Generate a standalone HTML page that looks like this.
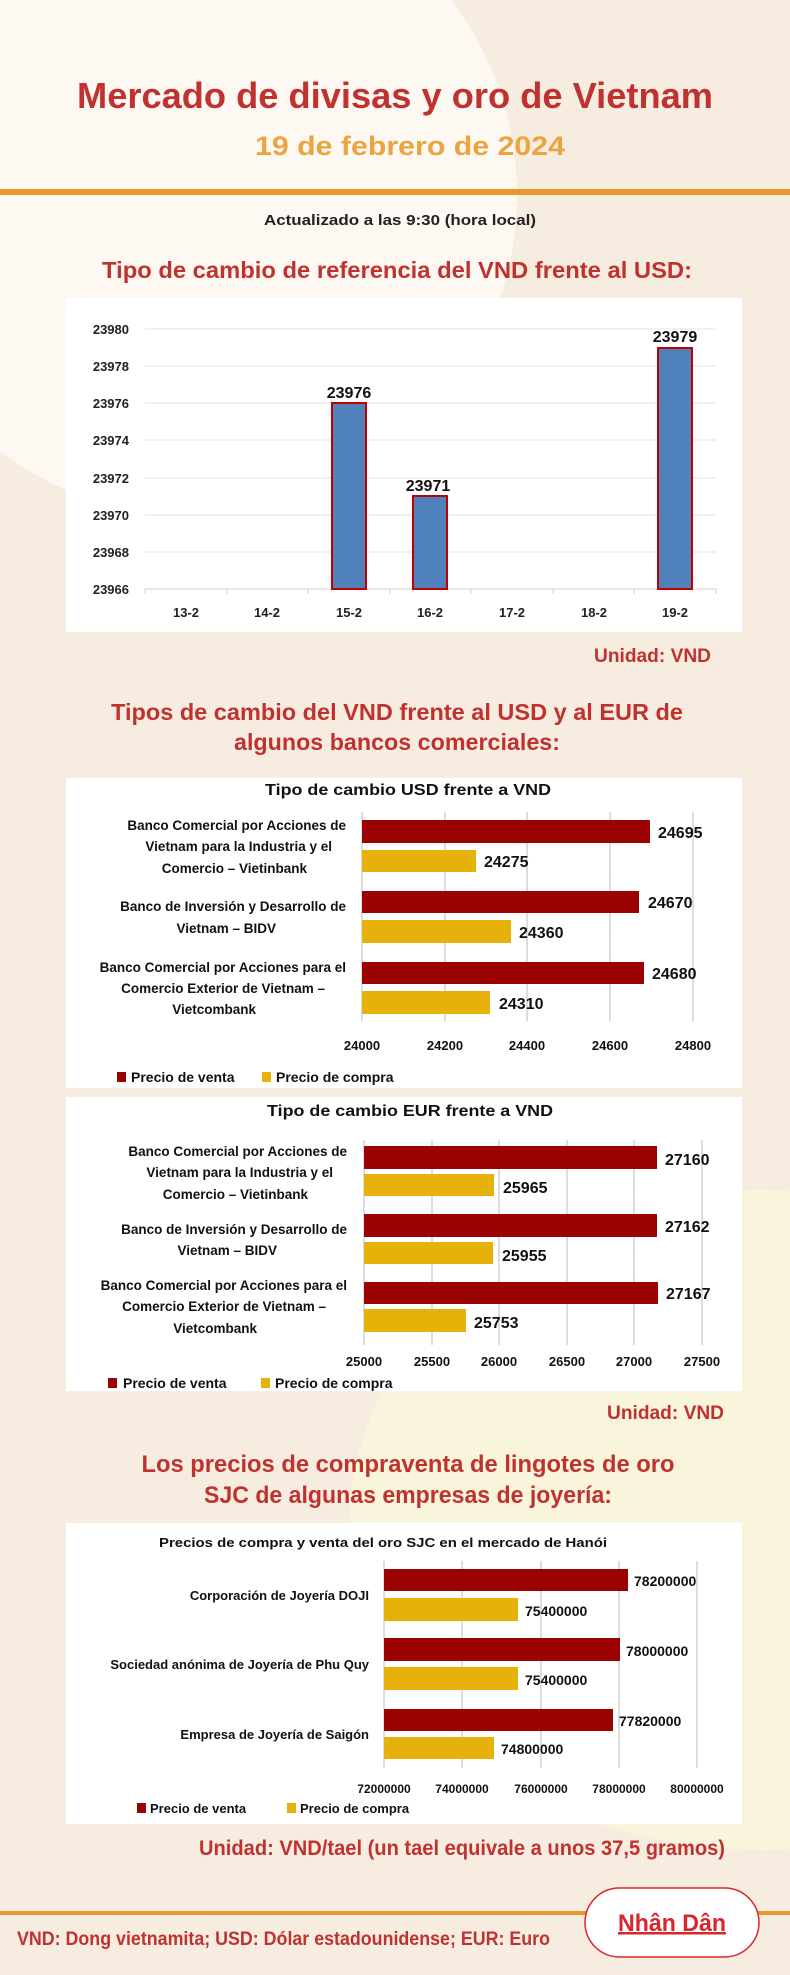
<!DOCTYPE html>
<html><head><meta charset="utf-8"><style>
html,body{margin:0;padding:0;background:#f7ede0;}
svg{display:block;font-family:"Liberation Sans",sans-serif;}
.b{font-weight:bold;}
</style></head><body>
<svg width="790" height="1975" viewBox="0 0 790 1975" xmlns="http://www.w3.org/2000/svg">
<rect width="790" height="1975" fill="#f7ece0"/>
<circle cx="195" cy="195" r="322" fill="#fdf8f1"/>
<ellipse cx="760" cy="1520" rx="410" ry="330" fill="#f8f5dc"/>

<text x="395" y="108" text-anchor="middle" class="b" font-size="36" fill="#c0322f" textLength="636" lengthAdjust="spacingAndGlyphs">Mercado de divisas y oro de Vietnam</text>
<text x="410" y="155" text-anchor="middle" class="b" font-size="27" fill="#eba540" textLength="310" lengthAdjust="spacingAndGlyphs">19 de febrero de 2024</text>
<rect x="0" y="189" width="790" height="6" fill="#e8982f"/>
<text x="400" y="225" text-anchor="middle" class="b" font-size="15" fill="#222" textLength="272" lengthAdjust="spacingAndGlyphs">Actualizado a las 9:30 (hora local)</text>
<text x="397" y="278" text-anchor="middle" class="b" font-size="23" fill="#c0322f" textLength="590" lengthAdjust="spacingAndGlyphs">Tipo de cambio de referencia del VND frente al USD:</text>

<!-- chart 1 -->
<rect x="66" y="298" width="676" height="334" fill="#fff"/>
<g stroke="#e3e3e3" stroke-width="1">
<line x1="145" x2="716" y1="329" y2="329"/><line x1="145" x2="716" y1="366" y2="366"/><line x1="145" x2="716" y1="403" y2="403"/><line x1="145" x2="716" y1="440" y2="440"/><line x1="145" x2="716" y1="478" y2="478"/><line x1="145" x2="716" y1="515" y2="515"/><line x1="145" x2="716" y1="552" y2="552"/>
</g>
<line x1="145" x2="716" y1="589" y2="589" stroke="#d0d0d0"/>
<g stroke="#d0d0d0"><line x1="145" x2="145" y1="589" y2="594"/><line x1="227" x2="227" y1="589" y2="594"/><line x1="308" x2="308" y1="589" y2="594"/><line x1="390" x2="390" y1="589" y2="594"/><line x1="471" x2="471" y1="589" y2="594"/><line x1="553" x2="553" y1="589" y2="594"/><line x1="634" x2="634" y1="589" y2="594"/><line x1="716" x2="716" y1="589" y2="594"/></g>
<g class="b" font-size="13" fill="#222" text-anchor="end">
<text x="129" y="334">23980</text><text x="129" y="371">23978</text><text x="129" y="408">23976</text><text x="129" y="445">23974</text><text x="129" y="483">23972</text><text x="129" y="520">23970</text><text x="129" y="557">23968</text><text x="129" y="594">23966</text>
</g>
<g class="b" font-size="13" fill="#222" text-anchor="middle">
<text x="186" y="617">13-2</text><text x="267" y="617">14-2</text><text x="349" y="617">15-2</text><text x="430" y="617">16-2</text><text x="512" y="617">17-2</text><text x="594" y="617">18-2</text><text x="675" y="617">19-2</text>
</g>
<g fill="#4f81bd" stroke="#c00000" stroke-width="2">
<rect x="332" y="403" width="34" height="186"/>
<rect x="413" y="496" width="34" height="93"/>
<rect x="658" y="348" width="34" height="241"/>
</g>
<g class="b" font-size="16" fill="#111" text-anchor="middle">
<text x="349" y="398">23976</text><text x="428" y="491">23971</text><text x="675" y="342">23979</text>
</g>
<text x="711" y="662" text-anchor="end" class="b" font-size="19" fill="#c0322f" textLength="117" lengthAdjust="spacingAndGlyphs">Unidad: VND</text>

<!-- section 2 -->
<text x="397" y="720" text-anchor="middle" class="b" font-size="23" fill="#c0322f" textLength="572" lengthAdjust="spacingAndGlyphs">Tipos de cambio del VND frente al USD y al EUR de</text>
<text x="397" y="750" text-anchor="middle" class="b" font-size="23" fill="#c0322f" textLength="326" lengthAdjust="spacingAndGlyphs">algunos bancos comerciales:</text>

<!-- USD chart -->
<rect x="66" y="778" width="676" height="310" fill="#fff"/>
<text x="408" y="795" text-anchor="middle" class="b" font-size="16" fill="#111" textLength="286" lengthAdjust="spacingAndGlyphs">Tipo de cambio USD frente a VND</text>
<g stroke="#bbb"><line x1="362" x2="362" y1="812" y2="1021"/><line x1="445" x2="445" y1="812" y2="1021"/><line x1="527" x2="527" y1="812" y2="1021"/><line x1="610" x2="610" y1="812" y2="1021"/><line x1="693" x2="693" y1="812" y2="1021"/></g>
<g fill="#9b0303"><rect x="362" y="820" width="288" height="23"/><rect x="362" y="891" width="277" height="22"/><rect x="362" y="962" width="282" height="22"/></g>
<g fill="#e6b10b"><rect x="362" y="850" width="114" height="22"/><rect x="362" y="920" width="149" height="23"/><rect x="362" y="991" width="128" height="23"/></g>
<g class="b" font-size="16" fill="#111">
<text x="658" y="838">24695</text><text x="484" y="867">24275</text><text x="648" y="908">24670</text><text x="519" y="938">24360</text><text x="652" y="979">24680</text><text x="499" y="1009">24310</text>
</g>
<g class="b" font-size="13.5" fill="#111" text-anchor="end">
<text x="346" y="830">Banco Comercial por Acciones de</text>
<text x="332" y="851">Vietnam para la Industria y el</text>
<text x="307" y="873">Comercio – Vietinbank</text>
<text x="346" y="911">Banco de Inversión y Desarrollo de</text>
<text x="276" y="933">Vietnam – BIDV</text>
<text x="346" y="972">Banco Comercial por Acciones para el</text>
<text x="325" y="993">Comercio Exterior de Vietnam –</text>
<text x="256" y="1014">Vietcombank</text>
</g>
<g class="b" font-size="13" fill="#111" text-anchor="middle">
<text x="362" y="1050">24000</text><text x="445" y="1050">24200</text><text x="527" y="1050">24400</text><text x="610" y="1050">24600</text><text x="693" y="1050">24800</text>
</g>
<rect x="117" y="1072" width="9" height="10" fill="#9b0303"/>
<text x="131" y="1082" class="b" font-size="14" fill="#111">Precio de venta</text>
<rect x="262" y="1072" width="9" height="10" fill="#e6b10b"/>
<text x="276" y="1082" class="b" font-size="14" fill="#111">Precio de compra</text>

<!-- EUR chart -->
<rect x="66" y="1097" width="676" height="294" fill="#fff"/>
<text x="410" y="1116" text-anchor="middle" class="b" font-size="16" fill="#111" textLength="286" lengthAdjust="spacingAndGlyphs">Tipo de cambio EUR frente a VND</text>
<g stroke="#bbb"><line x1="364" x2="364" y1="1140" y2="1345"/><line x1="432" x2="432" y1="1140" y2="1345"/><line x1="499" x2="499" y1="1140" y2="1345"/><line x1="567" x2="567" y1="1140" y2="1345"/><line x1="634" x2="634" y1="1140" y2="1345"/><line x1="702" x2="702" y1="1140" y2="1345"/></g>
<g fill="#9b0303"><rect x="364" y="1146" width="293" height="23"/><rect x="364" y="1214" width="293" height="23"/><rect x="364" y="1282" width="294" height="22"/></g>
<g fill="#e6b10b"><rect x="364" y="1174" width="130" height="22"/><rect x="364" y="1242" width="129" height="22"/><rect x="364" y="1309" width="102" height="23"/></g>
<g class="b" font-size="16" fill="#111">
<text x="665" y="1165">27160</text><text x="503" y="1193">25965</text><text x="665" y="1232">27162</text><text x="502" y="1261">25955</text><text x="666" y="1299">27167</text><text x="474" y="1328">25753</text>
</g>
<g class="b" font-size="13.5" fill="#111" text-anchor="end">
<text x="347" y="1156">Banco Comercial por Acciones de</text>
<text x="333" y="1177">Vietnam para la Industria y el</text>
<text x="308" y="1199">Comercio – Vietinbank</text>
<text x="347" y="1234">Banco de Inversión y Desarrollo de</text>
<text x="277" y="1255">Vietnam – BIDV</text>
<text x="347" y="1290">Banco Comercial por Acciones para el</text>
<text x="326" y="1311">Comercio Exterior de Vietnam –</text>
<text x="257" y="1333">Vietcombank</text>
</g>
<g class="b" font-size="13" fill="#111" text-anchor="middle">
<text x="364" y="1366">25000</text><text x="432" y="1366">25500</text><text x="499" y="1366">26000</text><text x="567" y="1366">26500</text><text x="634" y="1366">27000</text><text x="702" y="1366">27500</text>
</g>
<rect x="108" y="1378" width="9" height="10" fill="#9b0303"/>
<text x="123" y="1388" class="b" font-size="14" fill="#111">Precio de venta</text>
<rect x="261" y="1378" width="9" height="10" fill="#e6b10b"/>
<text x="275" y="1388" class="b" font-size="14" fill="#111">Precio de compra</text>

<text x="724" y="1419" text-anchor="end" class="b" font-size="19" fill="#c0322f" textLength="117" lengthAdjust="spacingAndGlyphs">Unidad: VND</text>

<!-- section 3 -->
<text x="408" y="1472" text-anchor="middle" class="b" font-size="24" fill="#c0322f" textLength="533" lengthAdjust="spacingAndGlyphs">Los precios de compraventa de lingotes de oro</text>
<text x="408" y="1503" text-anchor="middle" class="b" font-size="24" fill="#c0322f" textLength="408" lengthAdjust="spacingAndGlyphs">SJC de algunas empresas de joyería:</text>

<rect x="66" y="1523" width="676" height="301" fill="#fff"/>
<text x="383" y="1547" text-anchor="middle" class="b" font-size="13" fill="#111" textLength="448" lengthAdjust="spacingAndGlyphs">Precios de compra y venta del oro SJC en el mercado de Hanói</text>
<g stroke="#bbb"><line x1="384" x2="384" y1="1561" y2="1768"/><line x1="462" x2="462" y1="1561" y2="1768"/><line x1="541" x2="541" y1="1561" y2="1768"/><line x1="619" x2="619" y1="1561" y2="1768"/><line x1="697" x2="697" y1="1561" y2="1768"/></g>
<g fill="#9b0303"><rect x="384" y="1569" width="244" height="22"/><rect x="384" y="1638" width="236" height="23"/><rect x="384" y="1709" width="229" height="22"/></g>
<g fill="#e6b10b"><rect x="384" y="1598" width="134" height="23"/><rect x="384" y="1667" width="134" height="23"/><rect x="384" y="1737" width="110" height="22"/></g>
<g class="b" font-size="14" fill="#111">
<text x="634" y="1586">78200000</text><text x="525" y="1616">75400000</text><text x="626" y="1656">78000000</text><text x="525" y="1685">75400000</text><text x="619" y="1726">77820000</text><text x="501" y="1754">74800000</text>
</g>
<g class="b" font-size="13" fill="#111" text-anchor="end">
<text x="369" y="1600">Corporación de Joyería DOJI</text>
<text x="369" y="1669">Sociedad anónima de Joyería de Phu Quy</text>
<text x="369" y="1739">Empresa de Joyería de Saigón</text>
</g>
<g class="b" font-size="12" fill="#111" text-anchor="middle">
<text x="384" y="1793">72000000</text><text x="462" y="1793">74000000</text><text x="541" y="1793">76000000</text><text x="619" y="1793">78000000</text><text x="697" y="1793">80000000</text>
</g>
<rect x="137" y="1803" width="9" height="10" fill="#9b0303"/>
<text x="150" y="1813" class="b" font-size="13" fill="#111">Precio de venta</text>
<rect x="287" y="1803" width="9" height="10" fill="#e6b10b"/>
<text x="300" y="1813" class="b" font-size="13" fill="#111">Precio de compra</text>

<text x="725" y="1855" text-anchor="end" class="b" font-size="21" fill="#c0322f" textLength="526" lengthAdjust="spacingAndGlyphs">Unidad: VND/tael (un tael equivale a unos 37,5 gramos)</text>

<!-- footer -->
<rect x="0" y="1911" width="790" height="4" fill="#e8982f"/>
<text x="17" y="1945" class="b" font-size="19" fill="#c0322f" textLength="533" lengthAdjust="spacingAndGlyphs">VND: Dong vietnamita; USD: Dólar estadounidense; EUR: Euro</text>
<rect x="585" y="1888" width="174" height="69" rx="34.5" fill="#fff" stroke="#d9262b" stroke-width="1.5"/>
<text x="672" y="1931" text-anchor="middle" class="b" font-size="24" fill="#d9262b" textLength="108" lengthAdjust="spacingAndGlyphs">Nhân Dân</text>
<rect x="618" y="1932" width="108" height="2.5" fill="#d9262b"/>
</svg>
</body></html>
